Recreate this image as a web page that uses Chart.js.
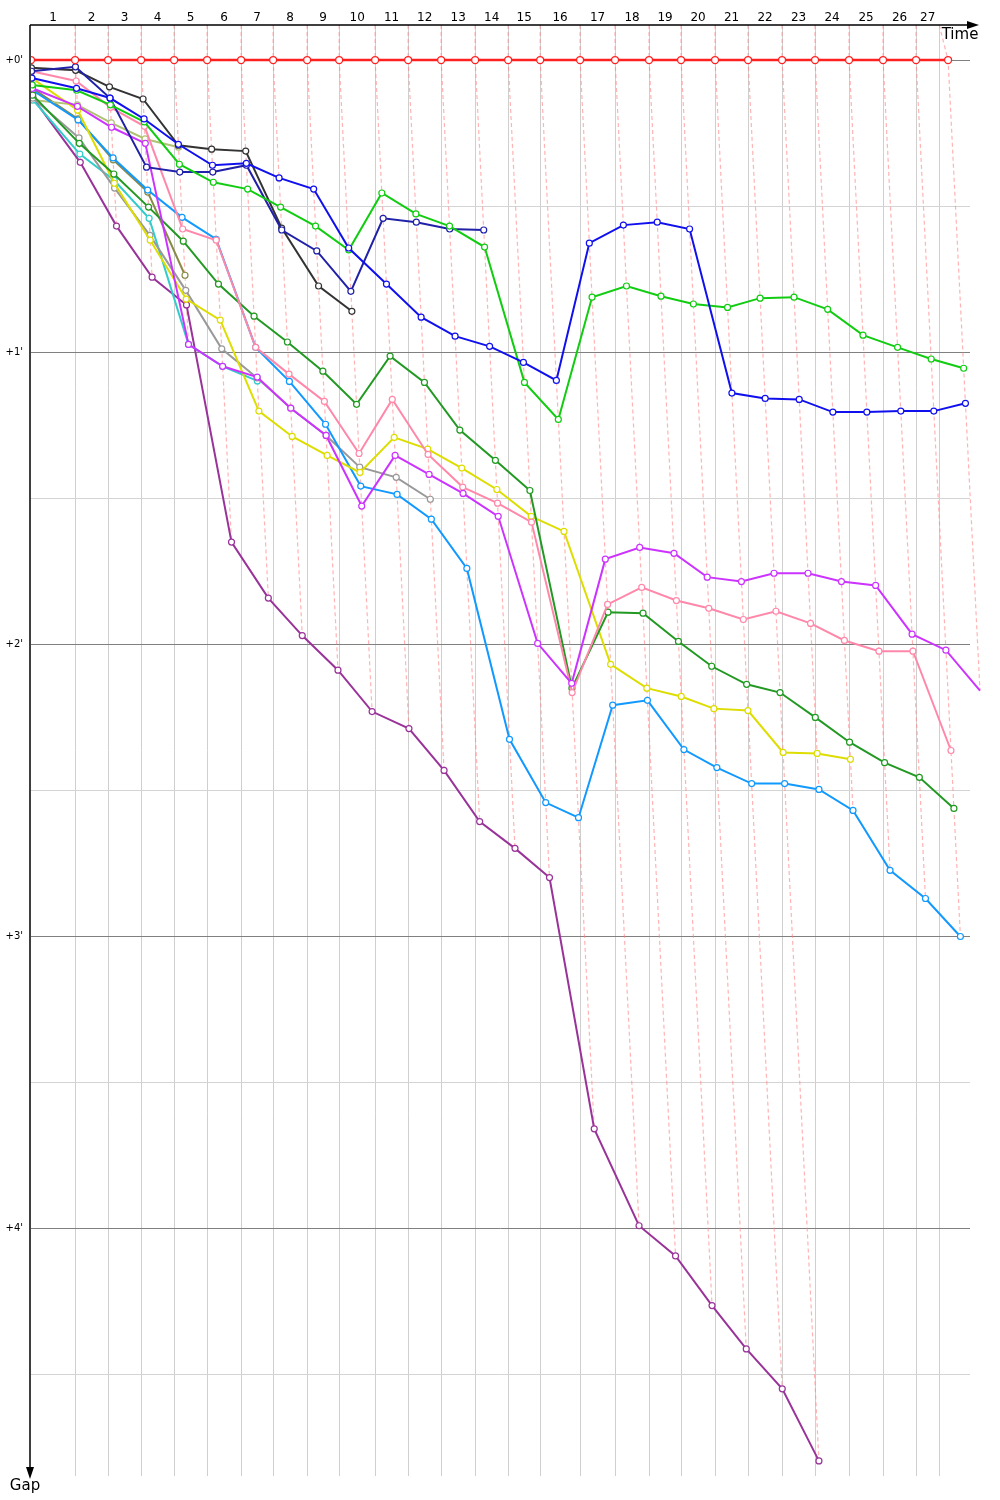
<!DOCTYPE html>
<html lang="en">
<head>
  <meta charset="UTF-8" />
  <title>Race gap chart</title>
  <script src="https://cdn.jsdelivr.net/npm/chart.js"></script>
  <style>
    html, body { margin: 0; padding: 0; background: #fff; }
    #wrap { width: 1000px; height: 1500px; }
  </style>
</head>
<body>
  <div id="wrap"><canvas id="gapChart" width="1000" height="1500"></canvas></div>

  <script>
    // leader's elapsed time (s) at the end of each lap, lap 0 = start
    const lapTimes = [0, 179, 313, 447, 581, 715, 853, 983, 1121, 1251, 1397, 1531, 1665, 1803, 1937,
      2067, 2229, 2371, 2509, 2639, 2777, 2911, 3049, 3183, 3321, 3459, 3593, 3723];
    const finishTime = 3687;
    const lapLabels = ['1','2','3','4','5','6','7','8','9','10','11','12','13','14','15','16','17','18',
      '19','20','21','22','23','24','25','26','27'];
    const gapTicks = [0, 30, 60, 90, 120, 150, 180, 210, 240, 270];

    // gap to the leader (s) per lap, starting at lap 0
    const gapBlack = [1.6, 2.1, 5.5, 8.0, 17.5, 18.3, 18.7, 34.5, 46.4, 51.6];
    const gapNavy = [2.3, 1.4, 7.8, 22.0, 23.0, 23.0, 21.6, 34.9, 39.2, 47.5, 32.5, 33.3, 34.7, 34.9];
    const gapBlue = [3.7, 5.8, 7.8, 12.1, 17.3, 21.6, 21.2, 24.2, 26.5, 38.6, 46.0, 52.8, 56.7, 58.8,
      62.1, 65.8, 37.6, 33.9, 33.3, 34.7, 68.4, 69.5, 69.7, 72.3, 72.3, 72.1, 72.1, 70.5];
    const gapGreen = [5.1, 6.2, 9.2, 12.7, 21.4, 25.1, 26.5, 30.2, 34.1, 39.0, 27.3, 31.6, 34.1, 38.4,
      66.2, 73.8, 48.7, 46.4, 48.5, 50.1, 50.8, 48.9, 48.7, 51.2, 56.5, 59.0, 61.4, 63.3];
    const gapPink = [2.3, 4.3, 9.7, 13.6, 34.7, 37.0, 59.0, 64.5, 70.1, 80.8, 69.7, 81.0, 87.7, 91.0,
      94.9, 129.9, 111.8, 108.3, 111.0, 112.6, 114.9, 113.2, 115.7, 119.2, 121.4, 121.4, 141.8];
    const gapMagenta = [5.8, 9.5, 13.8, 17.1, 58.4, 62.9, 65.1, 71.5, 77.1, 91.6, 81.2, 85.1, 89.0, 93.7,
      119.8, 128.0, 102.5, 100.1, 101.3, 106.2, 107.1, 105.4, 105.4, 107.1, 107.9, 117.9, 121.2, 129.5];
    const gapOlive = [8.2, 9.2, 12.9, 16.2, 17.9];
    const gapYellow = [3.7, 10.3, 25.3, 37.0, 49.1, 53.4, 72.1, 77.3, 81.2, 84.7, 77.5, 79.9, 83.8, 88.2,
      93.7, 96.8, 124.1, 129.0, 130.7, 133.2, 133.6, 142.2, 142.4, 143.6];
    const gapKhaki = [5.8, 12.1, 20.5, 27.1, 44.2];
    const gapSky = [6.2, 12.3, 20.1, 26.7, 32.3, 36.8, 59.0, 66.0, 74.8, 87.5, 89.2, 94.3, 104.4, 139.5,
      152.5, 155.6, 132.5, 131.5, 141.6, 145.3, 148.6, 148.6, 149.8, 154.1, 166.4, 172.2, 180.0];
    const gapDarkGreen = [7.2, 17.1, 23.4, 30.2, 37.2, 46.0, 52.6, 57.9, 63.9, 70.7, 60.8, 66.2, 76.0, 82.2,
      88.4, 129.0, 113.4, 113.6, 119.4, 124.5, 128.2, 129.9, 135.0, 140.1, 144.3, 147.3, 153.7];
    const gapGray = [7.8, 16.0, 26.3, 36.0, 47.3, 59.3, 65.3, 71.5, 77.1, 83.6, 85.7, 90.2];
    const gapCyan = [8.2, 19.3, 24.7, 32.5, 58.4, 62.9, 65.9];
    const gapPurple = [7.8, 21.0, 34.1, 44.6, 50.3, 99.0, 110.5, 118.2, 125.3, 133.8, 137.3, 145.9, 156.4,
      161.9, 167.9, 219.5, 239.4, 245.6, 255.8, 264.7, 272.9, 287.7];

    const cars = [
      { gaps: gapBlue, color: '#1010ee' },
      { gaps: gapGreen, color: '#11cc11' },
      { gaps: gapNavy, color: '#2020a8' },
      { gaps: gapBlack, color: '#333333' },
      { gaps: gapMagenta, color: '#cc33ff' },
      { gaps: gapPink, color: '#ff88aa' },
      { gaps: gapDarkGreen, color: '#229922' },
      { gaps: gapYellow, color: '#dddd00' },
      { gaps: gapSky, color: '#1199ff' },
      { gaps: gapGray, color: '#999999' },
      { gaps: gapCyan, color: '#33cccc' },
      { gaps: gapOlive, color: '#b0c274' },
      { gaps: gapKhaki, color: '#8a8a48' },
      { gaps: gapPurple, color: '#993399' }
    ];

    const Y_MIN = -7.2, Y_MAX = 290.8, X_MAX = 3812;
    const gridTimes = lapTimes.slice(1, 27).concat([finishTime]);
    const labelTimes = gridTimes.map((t, i) => (t + (i === 0 ? 0 : gridTimes[i - 1])) / 2);

    const datasets = [];

    // leader
    datasets.push({
      data: lapTimes.map(t => ({ x: t, y: 0 })),
      borderColor: '#ff2020', borderWidth: 2.5,
      pointRadius: 3.5, pointBackgroundColor: '#fff', pointBorderColor: '#ff2020', pointBorderWidth: 1.3,
      order: 0, clip: { left: 0, top: false, right: false, bottom: false }
    });

    cars.forEach(c => {
      datasets.push({
        data: c.gaps.map((g, i) => ({ x: lapTimes[i] + g, y: g })),
        borderColor: c.color, borderWidth: 2,
        pointRadius: 3, pointBackgroundColor: '#fff', pointBorderColor: c.color, pointBorderWidth: 1.2,
        order: 1, clip: { left: 0, top: false, right: false, bottom: false }
      });
    });

    // lap lines: from the grid line down through every car's point on that lap
    for (let n = 1; n < lapTimes.length; n++) {
      let maxGap = 0;
      cars.forEach(c => { if (c.gaps[n] !== undefined) maxGap = Math.max(maxGap, c.gaps[n]); });
      datasets.push({
        data: [
          { x: gridTimes[n - 1], y: Y_MIN },
          { x: lapTimes[n], y: 0 },
          { x: lapTimes[n] + maxGap, y: maxGap }
        ],
        borderColor: 'rgba(255,130,130,0.6)', borderWidth: 1.2, borderDash: [4, 3],
        pointRadius: 0, order: 2, clip: false
      });
    }

    // axis lines with arrows and axis names
    const axisArrows = {
      id: 'axisArrows',
      afterDraw(chart) {
        const { ctx, chartArea: a } = chart;
        ctx.save();
        ctx.strokeStyle = '#000';
        ctx.fillStyle = '#000';
        ctx.lineWidth = 1.5;
        ctx.beginPath();
        ctx.moveTo(a.left - 1, a.top);
        ctx.lineTo(a.right + 2, a.top);
        ctx.moveTo(a.left - 1, a.top);
        ctx.lineTo(a.left - 1, a.bottom - 4);
        ctx.stroke();
        ctx.beginPath();
        ctx.moveTo(a.right + 9, a.top);
        ctx.lineTo(a.right - 3, a.top - 4);
        ctx.lineTo(a.right - 3, a.top + 4);
        ctx.closePath();
        ctx.fill();
        ctx.beginPath();
        ctx.moveTo(a.left - 1, a.bottom + 3);
        ctx.lineTo(a.left - 5, a.bottom - 9);
        ctx.lineTo(a.left + 3, a.bottom - 9);
        ctx.closePath();
        ctx.fill();
        ctx.font = '15px "DejaVu Sans", sans-serif';
        ctx.textAlign = 'center';
        ctx.textBaseline = 'middle';
        ctx.fillText('Time', a.right - 10, a.top + 10);
        ctx.fillText('Gap', a.left - 6, a.bottom + 10);
        ctx.restore();
      }
    };

    new Chart(document.getElementById('gapChart'), {
      type: 'scatter',
      data: { datasets },
      options: {
        responsive: false,
        animation: false,
        showLine: true,
        layout: { padding: { top: 0, right: 30, bottom: 24, left: 0 } },
        elements: { line: { tension: 0 } },
        plugins: { legend: { display: false }, tooltip: { enabled: false } },
        scales: {
          x: {
            type: 'linear', position: 'top', min: 0, max: X_MAX, weight: 2,
            afterBuildTicks: s => { s.ticks = gridTimes.map(v => ({ value: v })); },
            ticks: { display: false },
            grid: { color: '#cfcfcf', lineWidth: 1, drawTicks: false },
            border: { display: false }
          },
          lapAxis: {
            type: 'linear', position: 'top', min: 0, max: X_MAX, weight: 1,
            afterBuildTicks: s => { s.ticks = labelTimes.map(v => ({ value: v })); },
            afterFit: s => { s.height = 25; },
            ticks: {
              autoSkip: false, maxRotation: 0, padding: 0, color: '#000',
              font: { family: '"DejaVu Sans", sans-serif', size: 12 },
              callback: (v, i) => lapLabels[i]
            },
            grid: { display: false, drawTicks: false },
            border: { display: false }
          },
          y: {
            type: 'linear', reverse: true, min: Y_MIN, max: Y_MAX,
            afterBuildTicks: s => { s.ticks = gapTicks.map(v => ({ value: v })); },
            afterFit: s => { s.width = 31; },
            ticks: {
              padding: 8, color: '#000',
              font: { family: '"DejaVu Sans", sans-serif', size: 10 },
              callback: v => (v % 60 === 0 ? "+" + (v / 60) + "'" : '')
            },
            grid: {
              drawTicks: false, lineWidth: 1,
              color: ctx => (ctx.tick && ctx.tick.value % 60 === 0 ? '#808080' : '#d4d4d4')
            },
            border: { display: false }
          }
        }
      },
      plugins: [axisArrows]
    });
  </script>
</body>
</html>
